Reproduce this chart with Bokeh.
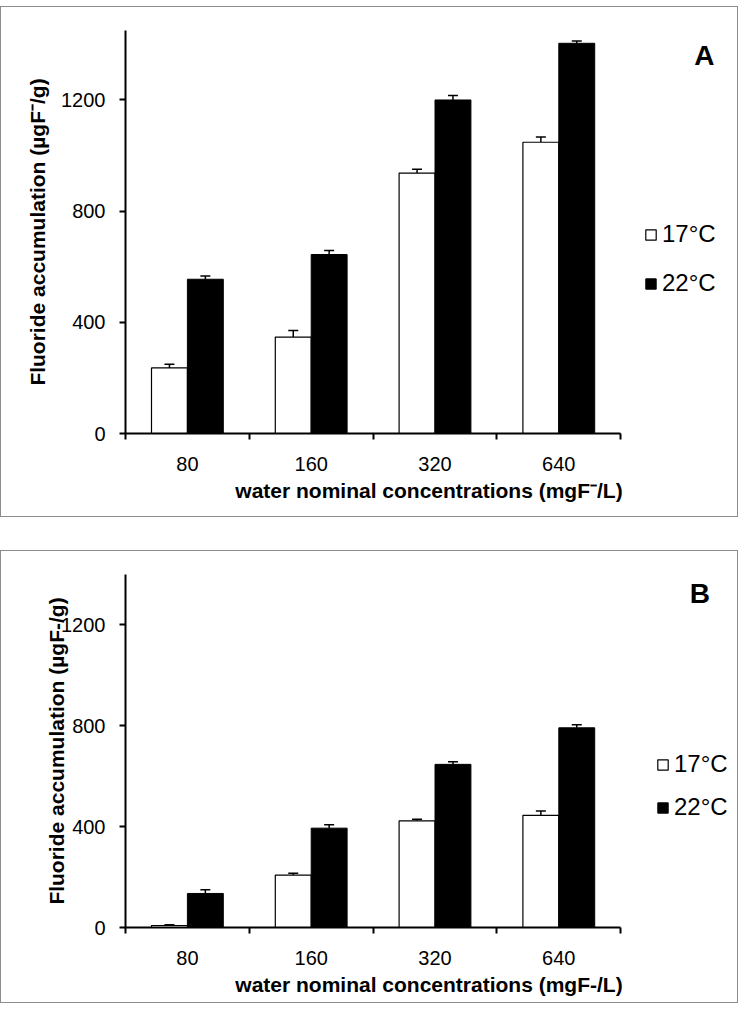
import numpy as np
from bokeh.plotting import figure
from bokeh.models import (ColumnDataSource, Range1d, FixedTicker, Whisker, TeeHead,
                          Legend, LegendItem, Label, Spacer)
from bokeh.layouts import column
from bokeh.embed import file_html
from bokeh.resources import INLINE

categories = ["80", "160", "320", "640"]
series_labels = ["17°C", "22°C"]

a_17 = [236, 347, 937, 1048]
a_17_err = [13, 24, 14, 19]
a_22 = [555, 644, 1200, 1404]
a_22_err = [12, 14, 16, 8]

b_17 = [8, 208, 423, 445]
b_17_err = [3, 7, 6, 17]
b_22 = [135, 394, 647, 792]
b_22_err = [15, 14, 10, 12]

y_ticks = [0, 400, 800, 1200]

FONT = "Liberation Sans"
BAR_W = 0.29


def make_panel(letter, v17, e17, v22, e22, ymax, ytitle, xtitle, height,
               mb_top, mb_bottom, legend_loc, legend_spacing, letter_xy,
               ylab_standoff):
    p = figure(width=738, height=height, output_backend="svg", toolbar_location=None,
               x_range=Range1d(0, 4.903), y_range=Range1d(0, ymax),
               min_border_left=124, min_border_right=7, min_border_top=mb_top,
               min_border_bottom=mb_bottom,
               styles={"border": "1px solid #8c8c8c"})
    p.outline_line_color = None
    p.xgrid.visible = False
    p.ygrid.visible = False

    idx = np.arange(len(categories)) + 0.5
    s17 = ColumnDataSource(dict(x=idx - BAR_W / 2, top=v17,
                                upper=np.array(v17) + np.array(e17)))
    s22 = ColumnDataSource(dict(x=idx + BAR_W / 2, top=v22,
                                upper=np.array(v22) + np.array(e22)))
    r17 = p.vbar(x="x", top="top", bottom=0, width=BAR_W, source=s17,
                 fill_color="white", line_color="black", line_width=1.2)
    r22 = p.vbar(x="x", top="top", bottom=0, width=BAR_W, source=s22,
                 fill_color="black", line_color="black", line_width=1.0)
    for s in (s17, s22):
        w = Whisker(base="x", lower="top", upper="upper", source=s,
                    line_color="black", line_width=1.5,
                    upper_head=TeeHead(size=10, line_width=1.5, line_color="black"),
                    lower_head=None)
        p.add_layout(w)

    # x axis
    xa = p.xaxis[0]
    xa.ticker = FixedTicker(ticks=list(idx), minor_ticks=list(range(len(categories) + 1)))
    xa.bounds = (0, len(categories))
    xa.major_label_overrides = {float(t): c for t, c in zip(idx, categories)}
    xa.major_tick_out = 0
    xa.major_tick_in = 0
    xa.major_tick_line_color = None
    xa.minor_tick_out = 6
    xa.minor_tick_in = 0
    xa.minor_tick_line_width = 2
    xa.minor_tick_line_color = "black"
    xa.axis_line_width = 2
    xa.axis_line_color = "black"
    xa.major_label_standoff = 17
    xa.axis_label = xtitle
    xa.axis_label_standoff = 5

    ya = p.yaxis[0]
    ya.ticker = FixedTicker(ticks=y_ticks, minor_ticks=[])
    ya.major_tick_out = 6
    ya.major_tick_in = 0
    ya.major_tick_line_width = 2
    ya.major_tick_line_color = "black"
    ya.axis_line_width = 2
    ya.axis_line_color = "black"
    ya.major_label_standoff = 14
    ya.axis_label = ytitle
    ya.axis_label_standoff = ylab_standoff

    for ax in (xa, ya):
        ax.major_label_text_font = FONT
        ax.major_label_text_font_size = "20px"
        ax.major_label_text_color = "black"
        ax.axis_label_text_font = FONT
        ax.axis_label_text_font_size = "21px"
        ax.axis_label_text_font_style = "bold"
        ax.axis_label_text_color = "black"

    legend = Legend(items=[LegendItem(label=series_labels[0], renderers=[r17]),
                           LegendItem(label=series_labels[1], renderers=[r22])],
                    location=legend_loc, orientation="vertical",
                    glyph_width=13, glyph_height=13, label_standoff=5,
                    spacing=legend_spacing, padding=0, margin=0,
                    border_line_color=None, background_fill_alpha=0,
                    label_text_font=FONT, label_text_font_size="24px",
                    label_text_color="black")
    p.add_layout(legend)

    p.add_layout(Label(x=letter_xy[0], y=letter_xy[1], text=letter,
                       text_font=FONT, text_font_style="bold", text_font_size="28px",
                       text_align="center", text_baseline="middle", text_color="black"))
    return p


pA = make_panel("A", a_17, a_17_err, a_22, a_22_err, 1450,
                "Fluoride accumulation (µgF⁻/g)", "water nominal concentrations (mgF⁻/L)",
                511, 23, 85, (519, 136), 21, (4.675, 1361), 9)
pB = make_panel("B", b_17, b_17_err, b_22, b_22_err, 1400,
                "Fluoride accumulation (µgF-/g)", "water nominal concentrations (mgF-/L)",
                453, 23, 77, (531, 106), 15, (4.64, 1325), -10)

layout = column(Spacer(width=10, height=6), pA, Spacer(width=10, height=33), pB)

open("out.html", "w").write(file_html(layout, INLINE))
